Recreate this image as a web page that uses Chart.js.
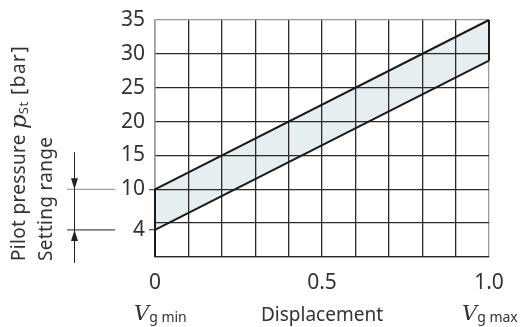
<!DOCTYPE html>
<html>
<head>
<meta charset="utf-8">
<script src="https://cdn.jsdelivr.net/npm/chart.js@4"></script>
<style>
  html, body { margin: 0; padding: 0; background: #fff; }
  #wrap { width: 520px; height: 327px; }
</style>
</head>
<body>
<div id="wrap"><canvas id="chart"></canvas></div>
<script>
// band of the setting range: pilot pressure vs. displacement
const displacement = [0, 0, 1];
const upperLimit = [0, 10, 35];
const lowerLimit = [0, 4, 29];
const edgeX = [1, 1];
const edgeY = [29, 35];

const yTicks = [0, 4, 5, 10, 15, 20, 25, 30, 35];
const yLabels = [4, 10, 15, 20, 25, 30, 35];
const xLabels = { 0: '0', 0.5: '0.5', 1: '1.0' };

const sans = '"Noto Sans", "Open Sans", sans-serif';
const serif = '"DejaVu Serif", "Liberation Serif", serif';
const gridDark = '#2b2b2b';
const gridLight = '#9a9a9a';

const toPoints = (xs, ys) => xs.map((x, i) => ({ x: x, y: ys[i] }));

// draw a run of text pieces with their own fonts, left to right
function drawRun(ctx, pieces, x, y) {
  pieces.forEach(p => {
    ctx.font = p.font;
    ctx.letterSpacing = p.spacing || '0px';
    ctx.fillText(p.text, x, y + (p.dy || 0));
    x += ctx.measureText(p.text).width;
  });
  ctx.letterSpacing = '0px';
}

const decorations = {
  id: 'decorations',
  afterDraw(chart) {
    const ctx = chart.ctx;
    const ys = chart.scales.y;
    const xs = chart.scales.x;
    const y10 = ys.getPixelForValue(10);
    const y4 = ys.getPixelForValue(4);

    ctx.save();
    ctx.fillStyle = '#333';
    ctx.textBaseline = 'middle';

    // rotated axis titles
    ctx.save();
    ctx.translate(20, 261);
    ctx.rotate(-Math.PI / 2);
    drawRun(ctx, [
      { text: 'Pilot pressure ', font: '19px ' + sans, spacing: '0.3px' },
      { text: 'p', font: 'italic 23px ' + serif },
      { text: 'St', font: '13px ' + sans, dy: 4, spacing: '0.5px' },
      { text: ' [bar]', font: '19px ' + sans, spacing: '1.5px' }
    ], 0, 0);
    ctx.restore();

    ctx.save();
    ctx.translate(47, 261);
    ctx.rotate(-Math.PI / 2);
    drawRun(ctx, [{ text: 'Setting range', font: '19px ' + sans, spacing: '0.3px' }], 0, 0);
    ctx.restore();

    // setting range dimension lines
    const ax = 74.5;
    ctx.lineWidth = 1;
    ctx.strokeStyle = '#888';
    ctx.beginPath();
    ctx.moveTo(67, y10); ctx.lineTo(115, y10);
    ctx.stroke();
    ctx.strokeStyle = '#222';
    ctx.beginPath();
    ctx.moveTo(67, y4); ctx.lineTo(115, y4);
    ctx.moveTo(ax, y10 - 37); ctx.lineTo(ax, y4 + 33);
    ctx.stroke();
    ctx.fillStyle = '#222';
    ctx.beginPath();
    ctx.moveTo(ax, y10); ctx.lineTo(ax - 3.5, y10 - 11); ctx.lineTo(ax + 3.5, y10 - 11);
    ctx.closePath(); ctx.fill();
    ctx.beginPath();
    ctx.moveTo(ax, y4); ctx.lineTo(ax - 3.5, y4 + 11); ctx.lineTo(ax + 3.5, y4 + 11);
    ctx.closePath(); ctx.fill();

    // V_g min / V_g max under the x axis
    ctx.fillStyle = '#333';
    const vy = 315;
    drawRun(ctx, [
      { text: 'V', font: 'italic 21px ' + serif },
      { text: 'g min', font: '14px ' + sans, dy: 3 }
    ], xs.getPixelForValue(0) - 21, vy);
    drawRun(ctx, [
      { text: 'V', font: 'italic 21px ' + serif },
      { text: 'g max', font: '14px ' + sans, dy: 3 }
    ], xs.getPixelForValue(1) - 27, vy);
    ctx.restore();
  }
};

new Chart(document.getElementById('chart'), {
  type: 'scatter',
  data: {
    datasets: [
      {
        label: 'Upper limit',
        data: toPoints(displacement, upperLimit),
        showLine: true,
        borderColor: '#1a1a1a',
        borderWidth: 2,
        pointRadius: 0,
        backgroundColor: '#e6eef1',
        fill: '+1',
        clip: false
      },
      {
        label: 'Lower limit',
        data: toPoints(displacement, lowerLimit),
        showLine: true,
        borderColor: '#1a1a1a',
        borderWidth: 2,
        pointRadius: 0,
        fill: false,
        clip: false
      },
      {
        label: 'Edge',
        data: toPoints(edgeX, edgeY),
        showLine: true,
        borderColor: '#1a1a1a',
        borderWidth: 2,
        pointRadius: 0,
        fill: false,
        clip: false
      }
    ]
  },
  options: {
    responsive: true,
    maintainAspectRatio: false,
    animation: false,
    layout: { padding: { top: 20, right: 31, left: 0, bottom: 0 } },
    plugins: {
      legend: { display: false },
      tooltip: { enabled: false },
      filler: { drawTime: 'beforeDraw' }
    },
    scales: {
      x: {
        type: 'linear',
        min: 0,
        max: 1,
        afterFit: s => { s.height = 70; },
        ticks: {
          stepSize: 0.1,
          autoSkip: false,
          maxRotation: 0,
          padding: 13,
          color: '#333',
          font: { family: sans, size: 21 },
          callback: v => {
            const k = Object.keys(xLabels).find(key => Math.abs(key - v) < 1e-6);
            return k !== undefined ? xLabels[k] : '';
          }
        },
        grid: {
          drawTicks: false,
          lineWidth: 1.3,
          color: ctx => (ctx.tick && Math.abs(ctx.tick.value - 1) < 1e-6) ? gridLight : gridDark
        },
        border: { color: gridDark, width: 1.3 },
        title: {
          display: true,
          text: 'Displacement',
          color: '#333',
          font: { family: sans, size: 19 },
          padding: { top: 0, bottom: 0 }
        }
      },
      y: {
        type: 'linear',
        min: 0,
        max: 35,
        afterFit: s => { s.width = 155; },
        afterBuildTicks: s => { s.ticks = yTicks.map(v => ({ value: v })); },
        ticks: {
          autoSkip: false,
          padding: 4,
          color: '#333',
          font: { family: sans, size: 21 },
          callback: v => yLabels.includes(v) ? String(v) : ''
        },
        grid: {
          lineWidth: 1.3,
          tickLength: 6,
          tickColor: ctx => (ctx.tick && (ctx.tick.value === 4 || ctx.tick.value === 10)) ? '#555' : 'rgba(0,0,0,0)',
          color: ctx => {
            if (!ctx.tick) return gridDark;
            if (ctx.tick.value === 4) return 'rgba(0,0,0,0)';
            if (ctx.tick.value === 35) return gridLight;
            return gridDark;
          }
        },
        border: { color: gridLight, width: 1.3 }
      }
    }
  },
  plugins: [decorations]
});
</script>
</body>
</html>
